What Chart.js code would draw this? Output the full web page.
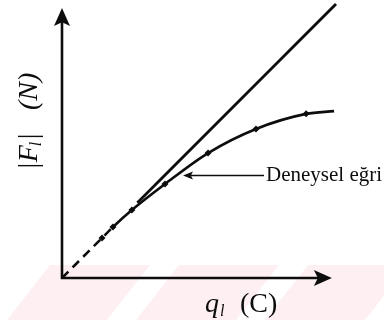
<!DOCTYPE html>
<html>
<head>
<meta charset="utf-8">
<script src="https://cdn.jsdelivr.net/npm/chart.js@4.4.1/dist/chart.umd.min.js"></script>
<style>
  html, body { margin: 0; padding: 0; background: #ffffff; }
  #wrap { width: 384px; height: 320px; }
</style>
</head>
<body>
<div id="wrap"><canvas id="chart" width="384" height="320"></canvas></div>
<script>
// Axis range (arbitrary units) and where the axis arrows end
const axisMax = 10;
const axisTip = 9.85;

// Coulomb's law: |F| proportional to q (straight line)
const coulombQ = [2.75, 10];
const coulombF = [2.75, 10];

// Measured points of the experimental curve
const measuredQ = [1.46, 1.86, 2.55, 3.76, 5.33, 7.08, 8.91];
const measuredF = [1.46, 1.86, 2.48, 3.43, 4.56, 5.44, 5.99];

// The curve is extrapolated to the origin and continues a little past the last point
const curveStart = [0, 0];
const curveEnd = [9.93, 6.09];

// Text
const yLabelParts = ['|', 'F', 'l', '|', '(N)'];
const xLabelParts = ['q', 'l', '(C)'];
const curveLabel = 'Deneysel eğri';

const serif = '"Liberation Serif", "Times New Roman", serif';
const ink = '#0d0d0d';

const curvePoints = [
  { x: curveStart[0], y: curveStart[1] },
  ...measuredQ.map((q, i) => ({ x: q, y: measuredF[i] })),
  { x: curveEnd[0], y: curveEnd[1] }
];
const curveRadius = curvePoints.map((p, i) => (i === 0 || i === curvePoints.length - 1) ? 0 : 3.5);

const linePoints = coulombQ.map((q, i) => ({ x: q, y: coulombF[i] }));

function arrowHead(ctx, tipX, tipY, dirX, dirY, len, half) {
  const bx = tipX - dirX * len, by = tipY - dirY * len;
  const nx = -dirY, ny = dirX;
  const mx = tipX - dirX * len * 0.78, my = tipY - dirY * len * 0.78;
  ctx.beginPath();
  ctx.moveTo(tipX, tipY);
  ctx.lineTo(bx + nx * half, by + ny * half);
  ctx.lineTo(mx, my);
  ctx.lineTo(bx - nx * half, by - ny * half);
  ctx.closePath();
  ctx.fill();
}

const decor = {
  id: 'decor',
  beforeDraw(chart) {
    const ctx = chart.ctx;
    ctx.save();
    ctx.fillStyle = '#ffffff';
    ctx.fillRect(0, 0, chart.width, chart.height);
    // faint diagonal pink band along the bottom
    ctx.fillStyle = '#fef0f2';
    const y0 = 265, y1 = 320, skew = 43, w = 100;
    [50, 179, 308].forEach(x => {
      ctx.beginPath();
      ctx.moveTo(x, y0);
      ctx.lineTo(x + w, y0);
      ctx.lineTo(x + w - skew, y1);
      ctx.lineTo(x - skew, y1);
      ctx.closePath();
      ctx.fill();
    });
    ctx.restore();
  },
  beforeDatasetsDraw(chart) {
    const ctx = chart.ctx;
    const xs = chart.scales.x, ys = chart.scales.y;
    const ox = xs.getPixelForValue(0), oy = ys.getPixelForValue(0);
    const xEnd = xs.getPixelForValue(axisTip), yEnd = ys.getPixelForValue(axisTip);
    ctx.save();
    ctx.strokeStyle = ink;
    ctx.fillStyle = ink;
    ctx.lineWidth = 2.6;
    ctx.lineCap = 'butt';
    ctx.beginPath();
    ctx.moveTo(ox, oy + 1.3);
    ctx.lineTo(ox, yEnd + 10);
    ctx.moveTo(ox - 1.3, oy);
    ctx.lineTo(xEnd - 10, oy);
    ctx.stroke();
    arrowHead(ctx, ox, yEnd, 0, -1, 18, 8);
    arrowHead(ctx, xEnd, oy, 1, 0, 18, 8);
    ctx.restore();
  },
  afterDatasetsDraw(chart) {
    const ctx = chart.ctx;
    ctx.save();
    ctx.fillStyle = ink;
    ctx.strokeStyle = ink;

    // annotation arrow pointing at the experimental curve
    ctx.lineWidth = 1.6;
    ctx.beginPath();
    ctx.moveTo(190, 175.5);
    ctx.lineTo(264, 175.5);
    ctx.stroke();
    arrowHead(ctx, 183, 175.5, -1, 0, 10, 4);
    ctx.font = '21px ' + serif;
    ctx.textBaseline = 'alphabetic';
    ctx.textAlign = 'left';
    ctx.fillText(curveLabel, 266, 181);

    // x axis title: q_l (C)
    ctx.font = 'italic 28px ' + serif;
    ctx.fillText(xLabelParts[0], 205, 312);
    ctx.font = 'italic 16px ' + serif;
    ctx.fillText(xLabelParts[1], 220, 316);
    ctx.font = '28px ' + serif;
    ctx.fillText(xLabelParts[2], 240, 312);

    // y axis title: |F_l| (N), rotated
    ctx.translate(37, 170);
    ctx.rotate(-Math.PI / 2);
    let x = 0;
    ctx.font = 'italic 28px ' + serif;
    ctx.fillText(yLabelParts[0], x, 0);
    x += ctx.measureText(yLabelParts[0]).width;
    ctx.fillText(yLabelParts[1], x, 0);
    x += ctx.measureText(yLabelParts[1]).width - 1;
    ctx.font = 'italic 16px ' + serif;
    ctx.fillText(yLabelParts[2], x, 4);
    x += ctx.measureText(yLabelParts[2]).width + 1;
    ctx.font = 'italic 28px ' + serif;
    ctx.fillText(yLabelParts[3], x, 0);
    ctx.fillText(yLabelParts[4], 60, 0);
    ctx.restore();
  }
};

new Chart(document.getElementById('chart'), {
  type: 'scatter',
  data: {
    datasets: [
      {
        label: 'Coulomb',
        data: linePoints,
        showLine: true,
        borderColor: ink,
        borderWidth: 2.8,
        pointRadius: 0,
        clip: false
      },
      {
        label: 'Deneysel',
        data: curvePoints,
        showLine: true,
        borderColor: ink,
        backgroundColor: ink,
        borderWidth: 2.6,
        cubicInterpolationMode: 'monotone',
        pointStyle: 'rectRot',
        pointRadius: curveRadius,
        pointBorderWidth: 0,
        clip: false,
        segment: {
          borderDash: c => (c.p1DataIndex <= 2 ? [9, 6] : undefined)
        }
      }
    ]
  },
  options: {
    responsive: false,
    animation: false,
    events: [],
    layout: { padding: { left: 62, right: 48, top: 4, bottom: 42 } },
    plugins: { legend: { display: false }, tooltip: { enabled: false } },
    scales: {
      x: { type: 'linear', min: 0, max: axisMax, display: false },
      y: { type: 'linear', min: 0, max: axisMax, display: false }
    }
  },
  plugins: [decor]
});
</script>
</body>
</html>
